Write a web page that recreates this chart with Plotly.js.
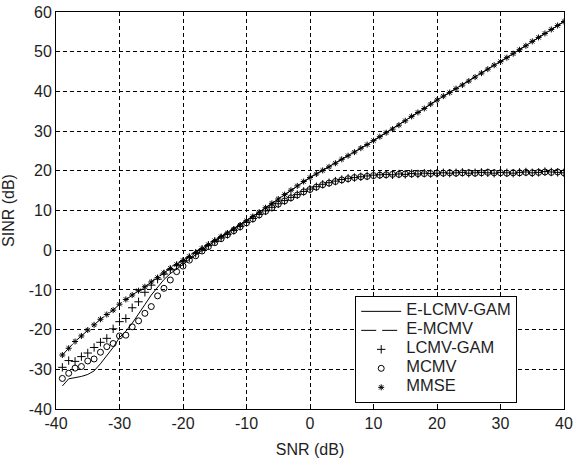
<!DOCTYPE html>
<html>
<head>
<meta charset="utf-8">
<script src="https://cdn.plot.ly/plotly-3.0.1.min.js"></script>
<style>html,body{margin:0;padding:0;background:#fff;}#chart{width:573px;height:458px;}</style>
</head>
<body>
<div id="chart"></div>
<script>
// SNR grid (dB)
const snr = [-39,-38,-37,-36,-35,-34,-33,-32,-31,-30,-29,-28,-27,-26,-25,-24,-23,-22,-21,-20,
  -19,-18,-17,-16,-15,-14,-13,-12,-11,-10,-9,-8,-7,-6,-5,-4,-3,-2,-1,0,
  1,2,3,4,5,6,7,8,9,10,11,12,13,14,15,16,17,18,19,20,
  21,22,23,24,25,26,27,28,29,30,31,32,33,34,35,36,37,38,39,40];

// E-LCMV-GAM (solid line)
const eLcmvGam = [-34.2,-32.4,-32.1,-31.8,-31.3,-30.4,-28.6,-26.6,-24.5,-22.0,-20.4,-18.4,-16.2,-13.7,-11.3,-9.2,-7.4,-5.9,-4.8,-3.6,
  -2.3,-1.1,0.1,1.2,2.3,3.3,4.3,5.3,6.3,7.4,8.5,9.6,10.7,11.8,12.9,14.0,15.1,16.2,17.3,18.3,
  19.2,20.1,21.0,21.9,22.9,23.8,24.7,25.7,26.6,27.6,28.6,29.6,30.5,31.5,32.6,33.7,34.7,35.7,36.8,37.8,
  38.8,39.7,40.7,41.6,42.6,43.6,44.6,45.6,46.6,47.5,48.5,49.5,50.5,51.5,52.6,53.6,54.6,55.6,56.6,57.6];

// E-MCMV (dashed line)
const eMcmv = [-26.4,-24.7,-23.0,-21.6,-20.1,-18.8,-17.4,-16.2,-15.1,-13.6,-12.4,-11.3,-10.2,-9.2,-8.0,-6.9,-5.7,-4.6,-3.6,-2.6,
  -1.6,-0.6,0.4,1.4,2.4,3.4,4.3,5.3,6.3,7.4,8.5,9.6,10.7,11.8,12.9,14.0,15.1,16.2,17.3,18.3,
  19.2,20.1,21.0,21.9,22.9,23.8,24.7,25.7,26.6,27.6,28.6,29.6,30.5,31.5,32.6,33.7,34.7,35.7,36.8,37.8,
  38.8,39.7,40.7,41.6,42.6,43.6,44.6,45.6,46.6,47.5,48.5,49.5,50.5,51.5,52.6,53.6,54.6,55.6,56.6,57.6];

// LCMV-GAM (+ markers)
const lcmvGam = [-29.5,-27.8,-28.0,-26.8,-25.9,-24.5,-23.2,-22.2,-19.8,-18.0,-17.2,-14.5,-13.0,-10.6,-8.8,-7.3,-6.0,-4.9,-3.9,-2.9,
  -1.9,-0.8,0.2,1.2,2.2,3.1,4.0,5.0,6.0,7.0,8.0,9.0,9.9,10.8,11.7,12.5,13.3,14.0,14.8,15.4,
  16.0,16.6,17.0,17.4,17.8,18.1,18.3,18.5,18.7,18.9,19.0,19.1,19.0,19.2,19.1,19.3,19.2,19.4,19.3,19.4,
  19.5,19.4,19.5,19.6,19.4,19.5,19.6,19.5,19.4,19.6,19.5,19.4,19.6,19.7,19.5,19.6,19.8,19.7,19.6,19.5];

// MCMV (o markers)
const mcmv = [-32.3,-31.0,-29.7,-29.3,-27.9,-27.4,-25.7,-24.3,-23.5,-21.6,-21.4,-19.3,-17.8,-15.9,-14.2,-11.5,-9.6,-7.5,-5.4,-4.0,
  -2.5,-1.4,-0.2,0.9,1.9,2.9,3.9,4.9,5.9,6.9,7.9,8.9,9.8,10.7,11.6,12.4,13.2,13.9,14.7,15.3,
  15.9,16.5,16.9,17.3,17.7,18.0,18.3,18.5,18.6,18.8,18.9,19.0,19.1,19.1,19.2,19.2,19.3,19.3,19.3,19.4,
  19.4,19.5,19.4,19.5,19.5,19.4,19.5,19.6,19.5,19.5,19.4,19.5,19.5,19.6,19.5,19.6,19.7,19.6,19.7,19.5];

// MMSE (* markers)
const mmse = [-26.4,-24.7,-23.0,-21.6,-20.1,-18.8,-17.4,-16.2,-15.1,-13.6,-12.4,-11.3,-10.2,-9.2,-8.0,-6.9,-5.7,-4.6,-3.6,-2.6,
  -1.6,-0.6,0.4,1.4,2.4,3.4,4.3,5.3,6.3,7.4,8.5,9.6,10.7,11.8,12.9,14.0,15.1,16.2,17.3,18.3,
  19.2,20.1,21.0,21.9,22.9,23.8,24.7,25.7,26.6,27.6,28.6,29.6,30.5,31.5,32.6,33.7,34.7,35.7,36.8,37.8,
  38.8,39.7,40.7,41.6,42.6,43.6,44.6,45.6,46.6,47.5,48.5,49.5,50.5,51.5,52.6,53.6,54.6,55.6,56.6,57.6];

const xTicks = [-40,-30,-20,-10,0,10,20,30,40];
const yTicks = [-40,-30,-20,-10,0,10,20,30,40,50,60];
const seriesNames = ['E-LCMV-GAM','E-MCMV','LCMV-GAM','MCMV','MMSE'];

const FONT = 'Liberation Sans, Arial, sans-serif';
const TXT = '#1e1e1e';
const FS = 16;
const lbl = s => '<span style="font-size:16.5px">' + s + '</span>';

const traces = [
  {x: snr, y: eLcmvGam, name: lbl(seriesNames[0]), mode: 'lines', line: {color: '#000', width: 1}},
  {x: snr, y: eMcmv, name: lbl(seriesNames[1]), mode: 'lines', line: {color: '#000', width: 1, dash: '15px,6px'}},
  {x: snr, y: lcmvGam, name: lbl(seriesNames[2]), mode: 'markers',
   marker: {symbol: 'cross-thin-open', size: 6, color: '#000', line: {color: '#000', width: 1}}},
  {x: snr, y: mcmv, name: lbl(seriesNames[3]), mode: 'markers',
   marker: {symbol: 'circle-open', size: 6, color: '#000', line: {color: '#000', width: 1}}},
  {x: snr, y: mmse, name: lbl(seriesNames[4]), mode: 'markers',
   marker: {symbol: 'asterisk-open', size: 5, color: '#000', line: {color: '#000', width: 1}}}
];

const axisCommon = {
  showgrid: true, gridcolor: '#000', gridwidth: 1, griddash: '4px,3px',
  showline: true, linecolor: '#000', linewidth: 1, mirror: 'ticks',
  ticks: 'inside', ticklen: 4, tickcolor: '#000', zeroline: false,
  tickfont: {family: FONT, size: FS, color: TXT}, automargin: false
};

const layout = {
  width: 573, height: 458,
  margin: {l: 56, r: 9, t: 12, b: 49},
  paper_bgcolor: '#fff', plot_bgcolor: '#fff',
  font: {family: FONT, color: TXT},
  showlegend: true,
  xaxis: Object.assign({}, axisCommon, {
    range: [-40, 40], tickvals: xTicks, ticktext: xTicks.map(String),
    title: {text: 'SNR (dB)', font: {family: FONT, size: FS, color: TXT}, standoff: 14}
  }),
  yaxis: Object.assign({}, axisCommon, {
    range: [-40, 60], tickvals: yTicks, ticktext: yTicks.map(String),
    title: {text: 'SINR (dB)', font: {family: FONT, size: FS, color: TXT}, standoff: 10}
  }),
  legend: {
    x: 0.589, y: 0.285, xanchor: 'left', yanchor: 'top',
    bgcolor: '#fff', bordercolor: '#000', borderwidth: 1,
    font: {family: FONT, size: 10, color: TXT}, itemwidth: 40
  }
};

Plotly.newPlot('chart', traces, layout, {displayModeBar: false, staticPlot: true});
</script>
</body>
</html>
